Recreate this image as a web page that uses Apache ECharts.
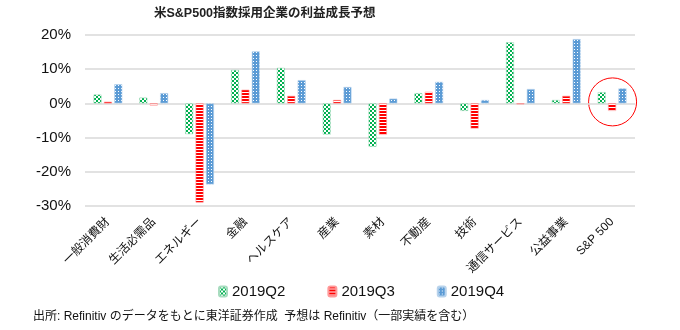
<!DOCTYPE html>
<html><head><meta charset="utf-8">
<script src="https://cdn.jsdelivr.net/npm/echarts@6/dist/echarts.min.js"></script>
<style>html,body{margin:0;padding:0;background:#fff}#c{width:680px;height:330px}</style>
</head><body><div id="c"></div>
<script>
const categories = ['一般消費財','生活必需品','エネルギー','金融','ヘルスケア','産業','素材','不動産','技術','通信サービス','公益事業','S&P 500'];
const seriesNames = ['2019Q2','2019Q3','2019Q4'];
const q2 = [2.6, 1.7, -9.0, 9.8, 10.4, -9.1, -12.7, 3.0, -2.2, 17.9, 1.0, 3.3];
const q3 = [0.5, -0.6, -29.0, 4.0, 2.2, 1.0, -9.2, 3.4, -7.4, -0.3, 2.2, -2.2];
const q4 = [5.6, 3.0, -23.7, 15.2, 6.8, 4.8, 1.4, 6.3, 1.0, 4.2, 18.8, 4.4];
const yTicks = [-30, -20, -10, 0, 10, 20];
const titleText = '米S&P500指数採用企業の利益成長予想';
const footText = '出所: Refinitiv のデータをもとに東洋証券作成  予想は Refinitiv（一部実績を含む）';

function pattern(kind){
  const c = document.createElement('canvas');
  const g = c.getContext('2d');
  if (kind === 'green'){
    c.width = 4; c.height = 4;
    g.fillStyle = '#ffffff'; g.fillRect(0,0,4,4);
    g.fillStyle = '#00B050'; g.fillRect(0,0,2,2); g.fillRect(2,2,2,2);
  } else if (kind === 'red'){
    c.width = 4; c.height = 3;
    g.fillStyle = '#ffffff'; g.fillRect(0,0,4,3);
    g.fillStyle = '#FF0000'; g.fillRect(0,0,4,2);
  } else {
    c.width = 3; c.height = 3;
    g.fillStyle = '#5B9BD5'; g.fillRect(0,0,3,3);
    g.fillStyle = '#ffffff'; g.fillRect(1,1,1,1);
  }
  return {image: c, repeat: 'repeat'};
}
const fills = [pattern('green'), pattern('red'), pattern('blue')];
const borders = ['#a8dcbf', '#ff9a9a', '#b8d3ec'];
const dataSets = [q2, q3, q4];
const FF = '"Liberation Sans", "Noto Sans CJK JP", sans-serif';

const chart = echarts.init(document.getElementById('c'), null, {renderer:'canvas'});
chart.setOption({
  animation: false,
  title: {text: titleText, left: 149, top: 2, textStyle: {fontSize: 12.5, fontWeight: 'bold', color: '#222', fontFamily: FF}},
  grid: {left: 85, right: 45, top: 35, bottom: 124},
  legend: {
    data: seriesNames, bottom: 26, left: 213, itemWidth: 8, itemHeight: 10, itemGap: 42,
    textStyle: {fontSize: 15, color: '#111', fontFamily: FF}
  },
  xAxis: {
    type: 'category', data: categories,
    axisLine: {show: false}, axisTick: {show: false},
    axisLabel: {rotate: 45, interval: 0, margin: 14, fontSize: 12, color: '#111', fontFamily: FF}
  },
  yAxis: {
    type: 'value', min: yTicks[0], max: yTicks[yTicks.length-1], interval: 10,
    axisLine: {show: false}, axisTick: {show: false},
    axisLabel: {formatter: '{value}%', fontSize: 15, color: '#111', margin: 14, fontFamily: FF},
    splitLine: {lineStyle: {color: '#d9d9d9', width: 1.5}}
  },
  series: dataSets.map((d, i) => ({
    name: seriesNames[i], type: 'bar', data: d, barWidth: 8, barGap: '30%',
    itemStyle: {color: fills[i], borderColor: borders[i], borderWidth: 0.6}
  })),
  graphic: [{
    type: 'text', left: 33, top: 311,
    style: {text: footText, fontSize: 12, fill: '#111', fontFamily: FF}
  }]
});
const ctr = chart.convertToPixel({gridIndex: 0}, [categories.length - 1, 0]);
chart.setOption({graphic: [{}, {
  type: 'circle', shape: {cx: ctr[0] + 0.5, cy: ctr[1] - 1.5, r: 24},
  style: {fill: 'none', stroke: '#FF0000', lineWidth: 1}
}]});
</script></body></html>
